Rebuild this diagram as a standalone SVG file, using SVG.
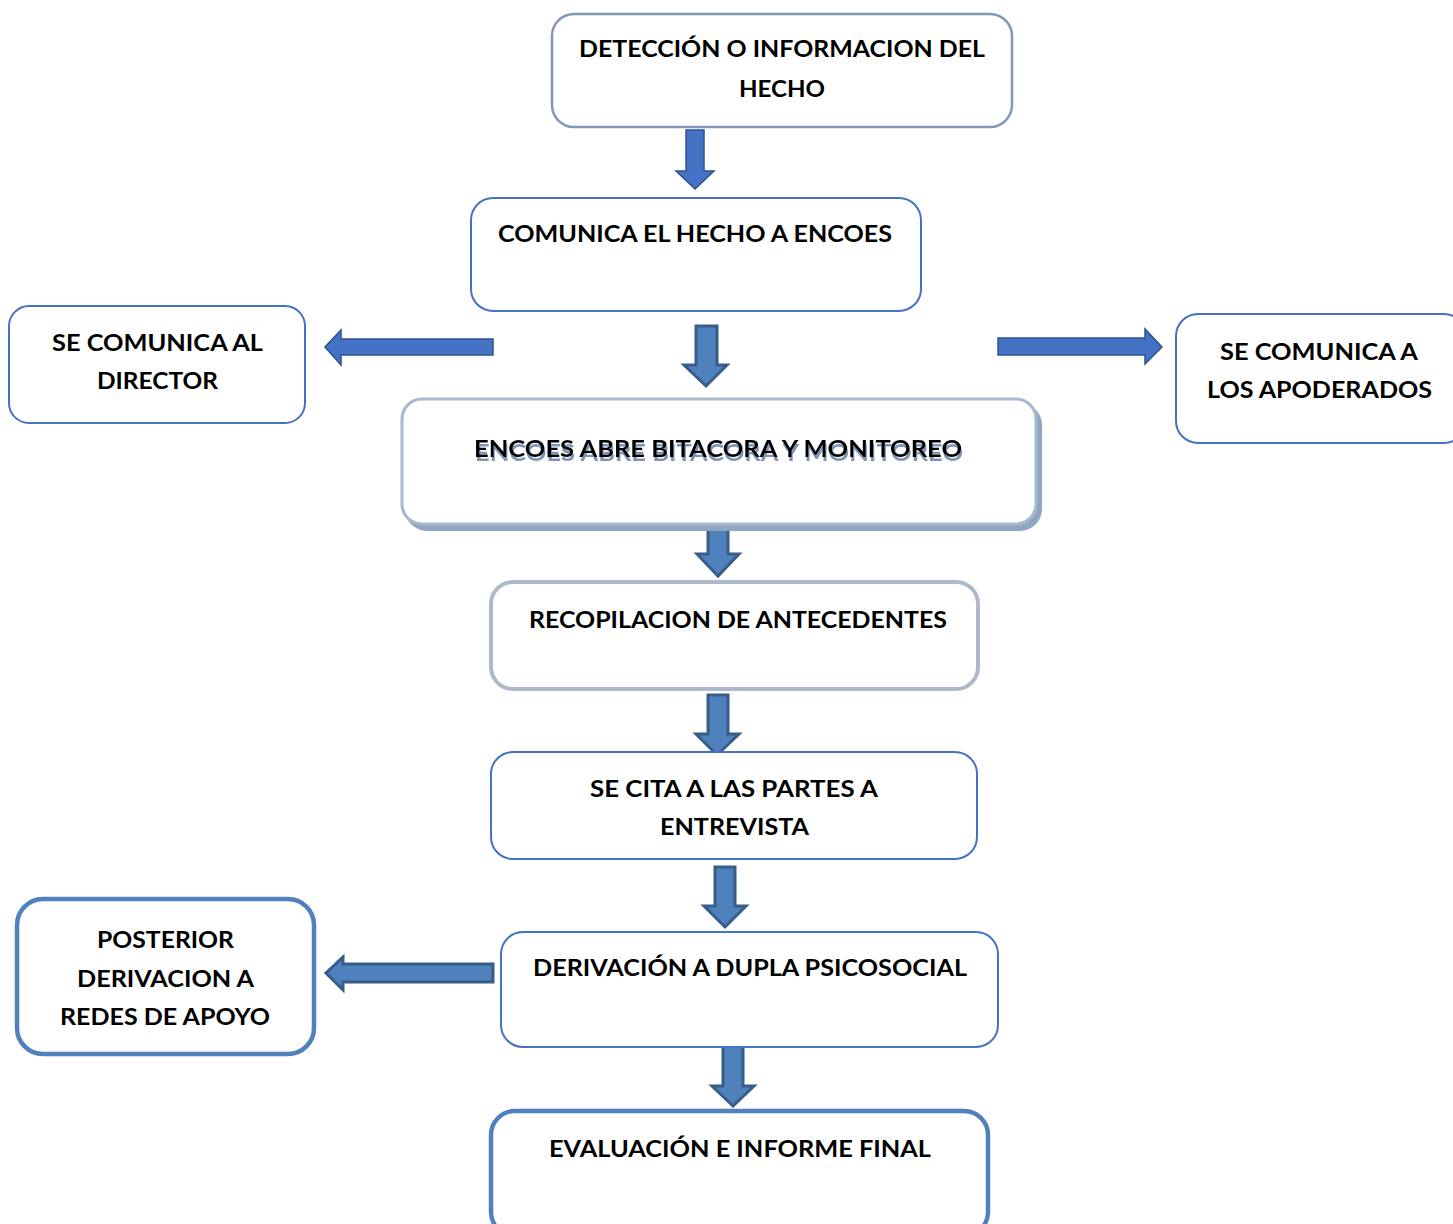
<svg xmlns="http://www.w3.org/2000/svg" width="1453" height="1224" viewBox="0 0 1453 1224">
  <style>
    text { font-family: Lato, "Open Sans", "Liberation Sans", sans-serif; font-weight: bold; font-size: 23px; fill: #000; }
    .box { fill: #fff; }
    .b-grey { stroke: #8497b4; stroke-width: 2.5; }
    .b-blue { stroke: #4472c4; stroke-width: 2; }
    .b-pale { stroke: #adb9cb; stroke-width: 4; }
    .b-thick { stroke: #4f81bd; stroke-width: 4.5; }
    .arr-a { fill: #4472c4; stroke: #2f528f; stroke-width: 1.5; stroke-linejoin: miter; }
    .arr-b { fill: #4f81bd; stroke: #385d8a; stroke-width: 3; stroke-linejoin: miter; }
  </style>
  <defs>
    <!-- offset grey-blue echo under the heading text -->
    <filter id="txtShadow" x="-5%" y="-30%" width="110%" height="180%">
      <feOffset in="SourceAlpha" dx="1" dy="4" result="off"/>
      <feFlood flood-color="#7f94b5"/>
      <feComposite in2="off" operator="in" result="sh"/>
      <feMerge>
        <feMergeNode in="sh"/>
        <feMergeNode in="SourceGraphic"/>
      </feMerge>
    </filter>
  </defs>
  <rect width="1453" height="1224" fill="#fff"/>

  <g id="connectors">
    <!-- down: detection -> comunica -->
    <polygon class="arr-a" points="686,130 704,130 704,171 714,171 695,189 676,171 686,171"/>
    <!-- down: comunica -> encoes -->
    <polygon class="arr-b" points="696,326 717,326 717,365 727,365 706,386 684,365 696,365"/>
    <!-- left: to director -->
    <polygon class="arr-a" points="493,339 493,355 341,355 341,365 325,347 341,330 341,339"/>
    <!-- right: to apoderados -->
    <polygon class="arr-a" points="998,338 1145,338 1145,329 1162,347 1145,364 1145,355 998,355"/>
    <!-- down: encoes -> recopilacion -->
    <polygon class="arr-b" points="708,517 728,517 728,554 739,554 718,576 697,554 708,554"/>
    <!-- down: recopilacion -> se cita -->
    <polygon class="arr-b" points="708,695 728,695 728,734 739,734 717,755 696,734 708,734"/>
    <!-- down: se cita -> derivacion -->
    <polygon class="arr-b" points="715,867 735,867 735,906 746,906 725,927 704,906 715,906"/>
    <!-- left: to redes de apoyo -->
    <polygon class="arr-b" points="493,964 493,982 343,982 343,990 326,973 343,957 343,964"/>
    <!-- down: derivacion -> evaluacion -->
    <polygon class="arr-b" points="723,1046 743,1046 743,1086 754,1086 733,1106 712,1086 723,1086"/>
  </g>

  <g id="n-deteccion">
    <rect class="box b-grey" x="552" y="14" width="460" height="113" rx="22"/>
    <text x="579" y="57" textLength="406" lengthAdjust="spacingAndGlyphs">DETECCIÓN O INFORMACION DEL</text>
    <text x="739" y="97" textLength="86" lengthAdjust="spacingAndGlyphs">HECHO</text>
  </g>

  <g id="n-comunica">
    <rect class="box b-blue" x="471" y="198" width="450" height="113" rx="22"/>
    <text x="498" y="242" textLength="394" lengthAdjust="spacingAndGlyphs">COMUNICA EL HECHO A ENCOES</text>
  </g>

  <g id="n-director">
    <rect class="box b-blue" x="9" y="306" width="296" height="117" rx="20"/>
    <text x="52" y="351" textLength="211" lengthAdjust="spacingAndGlyphs">SE COMUNICA AL</text>
    <text x="97" y="389" textLength="121" lengthAdjust="spacingAndGlyphs">DIRECTOR</text>
  </g>

  <g id="n-apoderados">
    <rect class="box b-blue" x="1176" y="314" width="290" height="129" rx="22"/>
    <text x="1220" y="360" textLength="198" lengthAdjust="spacingAndGlyphs">SE COMUNICA A</text>
    <text x="1207" y="398" textLength="225" lengthAdjust="spacingAndGlyphs">LOS APODERADOS</text>
  </g>

  <g id="n-encoes">
    <rect x="405" y="403" width="637" height="128" rx="22" fill="#90a5c2"/>
    <rect class="box" x="402" y="399" width="634" height="125" rx="20" stroke="#a8b8ce" stroke-width="3"/>
    <text x="474" y="457" textLength="488" lengthAdjust="spacingAndGlyphs" filter="url(#txtShadow)">ENCOES ABRE BITACORA Y MONITOREO</text>
  </g>

  <g id="n-recopilacion">
    <rect class="box b-pale" x="491" y="582" width="487" height="107" rx="22"/>
    <text x="529" y="628" textLength="418" lengthAdjust="spacingAndGlyphs">RECOPILACION DE ANTECEDENTES</text>
  </g>

  <g id="n-cita">
    <rect class="box b-blue" x="491" y="752" width="486" height="107" rx="22"/>
    <text x="590" y="797" textLength="288" lengthAdjust="spacingAndGlyphs">SE CITA A LAS PARTES A</text>
    <text x="660" y="835" textLength="149" lengthAdjust="spacingAndGlyphs">ENTREVISTA</text>
  </g>

  <g id="n-derivacion">
    <rect class="box b-blue" x="501" y="932" width="497" height="115" rx="22"/>
    <text x="533" y="976" textLength="434" lengthAdjust="spacingAndGlyphs">DERIVACIÓN A DUPLA PSICOSOCIAL</text>
  </g>

  <g id="n-redes">
    <rect class="box b-thick" x="17" y="899" width="297" height="155" rx="26"/>
    <text x="97" y="948" textLength="137" lengthAdjust="spacingAndGlyphs">POSTERIOR</text>
    <text x="77" y="987" textLength="177" lengthAdjust="spacingAndGlyphs">DERIVACION A</text>
    <text x="60" y="1025" textLength="210" lengthAdjust="spacingAndGlyphs">REDES DE APOYO</text>
  </g>

  <g id="n-evaluacion">
    <rect class="box b-thick" x="491" y="1111" width="497" height="125" rx="24"/>
    <text x="549" y="1157" textLength="382" lengthAdjust="spacingAndGlyphs">EVALUACIÓN E INFORME FINAL</text>
  </g>
</svg>
